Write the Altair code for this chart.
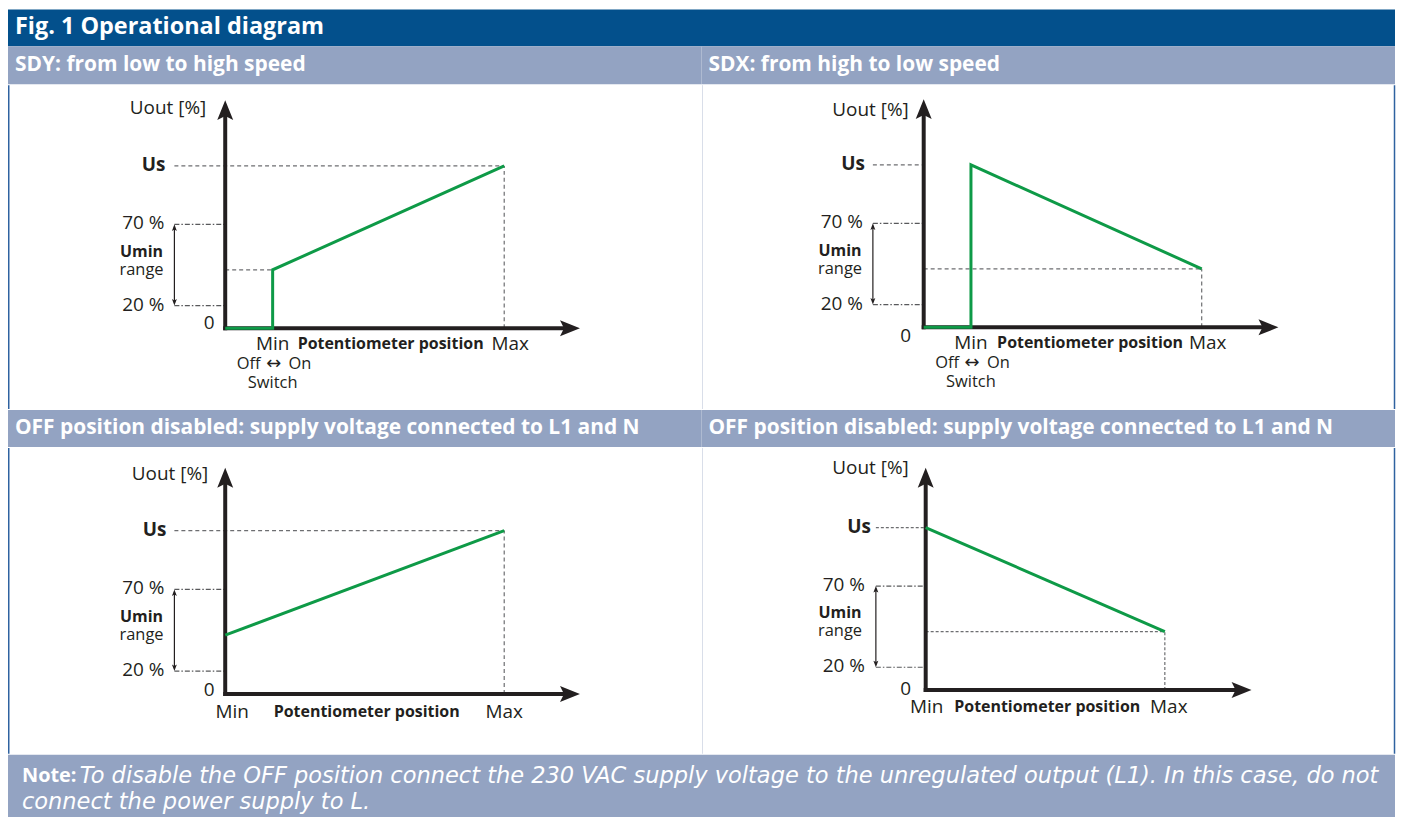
import altair as alt
import pandas as pd

# ---------------- data ----------------
fig_title = "Fig. 1 Operational diagram"
panel_titles = [
    "SDY: from low to high speed",
    "SDX: from high to low speed",
    "OFF position disabled: supply voltage connected to L1 and N",
    "OFF position disabled: supply voltage connected to L1 and N",
]
# potentiometer position (0 = axis, 17 = Min/switch, 100 = Max) and output (Us = 100)
curve_pos = [[0, 17, 17, 100], [0, 17, 17, 100], [0, 100], [0, 100]]
curve_out = [[0, 0, 36, 100], [0, 0, 100, 36], [36, 100], [100, 36]]
level_us = 100
level_70 = 64
level_20 = 14
level_start = 36
pos_switch = 17
pos_max = 100
has_switch = [True, True, False, False]
y_labels = ["Us", "70 %", "20 %", "0"]
x_labels = ["Min", "Potentiometer position", "Max"]
switch_labels = ["Off", "\u2194", "On", "Switch"]
umin_labels = ["Umin", "range"]
axis_title = "Uout [%]"
note_head = "Note:"
note_lines = [
    "To disable the OFF position connect the 230 VAC supply voltage to the unregulated output (L1). In this case, do not",
    "connect the power supply to L.",
]

# ---------------- style / layout ----------------
FONT = "Open Sans"
NOTE_FONT = "DejaVu Sans"
DARK = "#03508c"
LIGHT = "#93a3c2"
GREEN = "#0e9a47"
INK = "#231f20"
GREY = "#6d6e71"
FRAME = "#2f62a0"

TOTAL_W = 1392
PW = 696
COLS_X = [8, 704, 8, 704]
ROWS_Y = [83, 83, 445, 445]
PH = [325, 325, 307, 307]
AX = [226, 926, 226, 928]
AY = [327, 326, 692, 688]
PPX = [2.80, 2.79, 2.80, 2.40]
PPY = [1.63, 1.63, 1.64, 1.63]
TIP_X = [356, 356, 356, 327]
TIP_Y = [229, 229, 227, 223]
UOUT_DX = [-19, -15, -17, -17]
UOUT_UP = [221, 218, 221, 223]
US_DX = [-60, -59, -59, -55]
ZERO_DX = [-16, -18, -16, -20]
ZERO_DY = [-5, 9, -4, -1]
MIN_DX = [0, 0, 7, 1]
MAX_DX = [6, 6, 0, 4]
XLAB_DY = [16, 16, 18, 17]
POT_CX = [166, 167, 142, 122]
ANN_X = [-51, -51, -51, -50]
UMIN_X = [-84, -84, -84, -86]

ARROW_UP = "M0,0 L0.8,2 L0,1.6 L-0.8,2 Z"
ARROW_RIGHT = "M0,0 L-2,-0.8 L-1.6,0 L-2,0.8 Z"
SMALL_UP = "M0,0 L0.9,2.4 L0,1.9 L-0.9,2.4 Z"
SMALL_DOWN = "M0,0 L0.9,-2.4 L0,-1.9 L-0.9,-2.4 Z"


def panel(p):
    ux = lambda px: px / PPX[p]
    uy = lambda px: px / PPY[p]
    xlo = (COLS_X[p] - AX[p]) / PPX[p]
    xhi = (COLS_X[p] + PW - AX[p]) / PPX[p]
    ytop = (AY[p] - ROWS_Y[p]) / PPY[p]
    ybot = (AY[p] - ROWS_Y[p] - PH[p]) / PPY[p]
    xs = alt.Scale(domain=[xlo, xhi], nice=False, zero=False)
    ys = alt.Scale(domain=[ybot, ytop], nice=False, zero=False)

    def X(f="x"):
        return alt.X(f"{f}:Q", scale=xs, axis=None)

    def Y(f="y"):
        return alt.Y(f"{f}:Q", scale=ys, axis=None)

    def seg(rows, **kw):
        df = pd.DataFrame(rows, columns=["x", "y", "x2", "y2"])
        return alt.Chart(df).mark_rule(**kw).encode(
            x=X(), y=Y(), x2="x2:Q", y2="y2:Q")

    layers = []
    # frame lines
    if p in (0, 2):
        layers.append(alt.Chart(pd.DataFrame({"a": [0]})).mark_rule(
            color=FRAME, strokeWidth=1.5).encode(
            x=alt.value(0.75), y=alt.value(0), y2=alt.value(PH[p])))
    else:
        layers.append(alt.Chart(pd.DataFrame({"a": [0]})).mark_rule(
            color="#d9dee9", strokeWidth=1).encode(
            x=alt.value(0), y=alt.value(0), y2=alt.value(PH[p])))
        layers.append(alt.Chart(pd.DataFrame({"a": [0]})).mark_rule(
            color=FRAME, strokeWidth=1.5).encode(
            x=alt.value(PW - 1.5), y=alt.value(0), y2=alt.value(PH[p])))

    # dashed guides
    ax_ann = ux(ANN_X[p])
    us_end = pos_max if p in (0, 2) else 0
    dashed = [[ax_ann, level_us, us_end, level_us]]
    if p == 0:
        dashed += [[pos_max, 0, pos_max, level_us], [0, level_start, pos_switch, level_start]]
    elif p == 2:
        dashed += [[pos_max, 0, pos_max, level_us]]
    else:
        dashed += [[0, level_start, pos_max, level_start], [pos_max, 0, pos_max, level_start]]
    layers.append(seg(dashed, color=GREY, strokeWidth=1.2,
                      strokeDash=[3, 2] if p == 3 else [4, 3]))
    # dash-dot lines for Umin range
    layers.append(seg([[ax_ann, level_70, 0, level_70], [ax_ann, level_20, 0, level_20]],
                      color="#58595b", strokeWidth=1.2, strokeDash=[5, 2, 1.5, 2]))
    # double arrow
    layers.append(seg([[ax_ann, level_20 + uy(3), ax_ann, level_70 - uy(3)]],
                      color=INK, strokeWidth=1.2))

    # axes
    layers.append(seg([[ux(-2), 0, ux(TIP_X[p] - 14), 0],
                       [0, uy(-2), 0, uy(TIP_Y[p] - 14)]],
                      color=INK, strokeWidth=4))

    # green curve
    cdf = pd.DataFrame({"x": curve_pos[p], "y": curve_out[p],
                        "i": list(range(len(curve_pos[p])))})
    layers.append(alt.Chart(cdf).mark_line(
        color=GREEN, strokeWidth=3, strokeJoin="miter").encode(
        x=X(), y=Y(), order="i:Q"))

    # arrowheads
    adf = pd.DataFrame({
        "x": [0, ux(TIP_X[p]), ax_ann, ax_ann],
        "y": [uy(TIP_Y[p]), 0, level_70, level_20],
        "s": ["up", "right", "sup", "sdown"],
        "sz": [400, 400, 30, 30],
    })
    layers.append(alt.Chart(adf).mark_point(
        filled=True, opacity=1, color=INK, strokeWidth=0).encode(
        x=X(), y=Y(),
        shape=alt.Shape("s:N", scale=alt.Scale(
            domain=["up", "right", "sup", "sdown"],
            range=[ARROW_UP, ARROW_RIGHT, SMALL_UP, SMALL_DOWN]), legend=None),
        size=alt.Size("sz:Q", scale=None, legend=None)))

    def texts(rows, font=FONT, **kw):
        df = pd.DataFrame(rows, columns=["t", "x", "y"])
        return alt.Chart(df).mark_text(font=font, color=INK, baseline="middle", **kw).encode(
            x=X(), y=Y(), text="t:N")

    x_min_anchor = pos_switch if has_switch[p] else 0
    xl_y = -uy(XLAB_DY[p])
    layers.append(texts([
        [axis_title, ux(UOUT_DX[p]), uy(UOUT_UP[p])],
        [y_labels[1], ux(-61), level_70 + uy(1)],
        [y_labels[2], ux(-61), level_20 + uy(1)],
    ], fontSize=19, align="right"))
    layers.append(texts([[y_labels[0], ux(US_DX[p]), level_us + uy(1)]],
                        fontSize=19, align="right", fontWeight="bold"))
    layers.append(texts([
        [y_labels[3], ux(ZERO_DX[p]), -uy(ZERO_DY[p])],
        [x_labels[0], x_min_anchor + ux(MIN_DX[p]), xl_y],
        [x_labels[2], pos_max + ux(MAX_DX[p]), xl_y],
    ], fontSize=19, align="center"))
    layers.append(texts([
        [umin_labels[0], ux(UMIN_X[p]), uy(77)],
        [x_labels[1], ux(POT_CX[p]), xl_y],
    ], fontSize=16, align="center", fontWeight="bold"))
    small = [[umin_labels[1], ux(UMIN_X[p]), uy(59)]]
    if has_switch[p]:
        small += [[switch_labels[3], pos_switch, -uy(55)]]
        layers.append(texts([[switch_labels[0], pos_switch + ux(-12), -uy(36)]],
                            fontSize=16.5, align="right"))
        layers.append(texts([[switch_labels[2], pos_switch + ux(16), -uy(36)]],
                            fontSize=16.5, align="left"))
        layers.append(texts([[switch_labels[1], pos_switch + ux(1), -uy(36)]],
                            font="DejaVu Sans", fontSize=18, align="center"))
    layers.append(texts(small, fontSize=16.5, align="center"))

    return alt.layer(*layers).properties(
        width=PW, height=PH[p],
        view=alt.ViewBackground(fill="white", strokeWidth=0))


def band(title, h):
    return alt.Chart(pd.DataFrame({"t": [title]})).mark_text(
        align="left", baseline="middle", font=FONT, fontSize=21,
        fontWeight="bold", color="white").encode(
        x=alt.value(7), y=alt.value(h / 2), text="t:N").properties(
        width=PW, height=h, view=alt.ViewBackground(fill=LIGHT, strokeWidth=0))


header = alt.Chart(pd.DataFrame({"t": [fig_title]})).mark_text(
    align="left", baseline="middle", font=FONT, fontSize=23.5,
    fontWeight="bold", color="white").encode(
    x=alt.value(7), y=alt.value(18), text="t:N").properties(
    width=TOTAL_W, height=37, view=alt.ViewBackground(fill=DARK, strokeWidth=0))

NOTE_H = 65
note = alt.layer(
    alt.Chart(pd.DataFrame({"t": [note_head]})).mark_text(
        align="left", baseline="middle", font=FONT, fontSize=20,
        fontWeight="bold", color="white").encode(
        x=alt.value(14), y=alt.value(21), text="t:N"),
    alt.Chart(pd.DataFrame({"t": [note_lines[0]]})).mark_text(
        align="left", baseline="middle", font=NOTE_FONT, fontSize=22.6,
        fontStyle="italic", color="white").encode(
        x=alt.value(72), y=alt.value(21), text="t:N"),
    alt.Chart(pd.DataFrame({"t": [note_lines[1]]})).mark_text(
        align="left", baseline="middle", font=NOTE_FONT, fontSize=22.6,
        fontStyle="italic", color="white").encode(
        x=alt.value(14), y=alt.value(47), text="t:N"),
).properties(width=TOTAL_W, height=NOTE_H,
             view=alt.ViewBackground(fill=LIGHT, strokeWidth=0))

row1 = alt.hconcat(band(panel_titles[0], 38), band(panel_titles[1], 38), spacing=0)
row2 = alt.hconcat(panel(0), panel(1), spacing=0)
row3 = alt.hconcat(band(panel_titles[2], 37), band(panel_titles[3], 37), spacing=0)
row4 = alt.hconcat(panel(2), panel(3), spacing=0)

chart = alt.vconcat(header, row1, row2, row3, row4, note,
                    spacing=0).properties(
    padding=0).configure_view(strokeWidth=0)

chart.save("out.html", embed_options={"renderer": "svg", "actions": False})
